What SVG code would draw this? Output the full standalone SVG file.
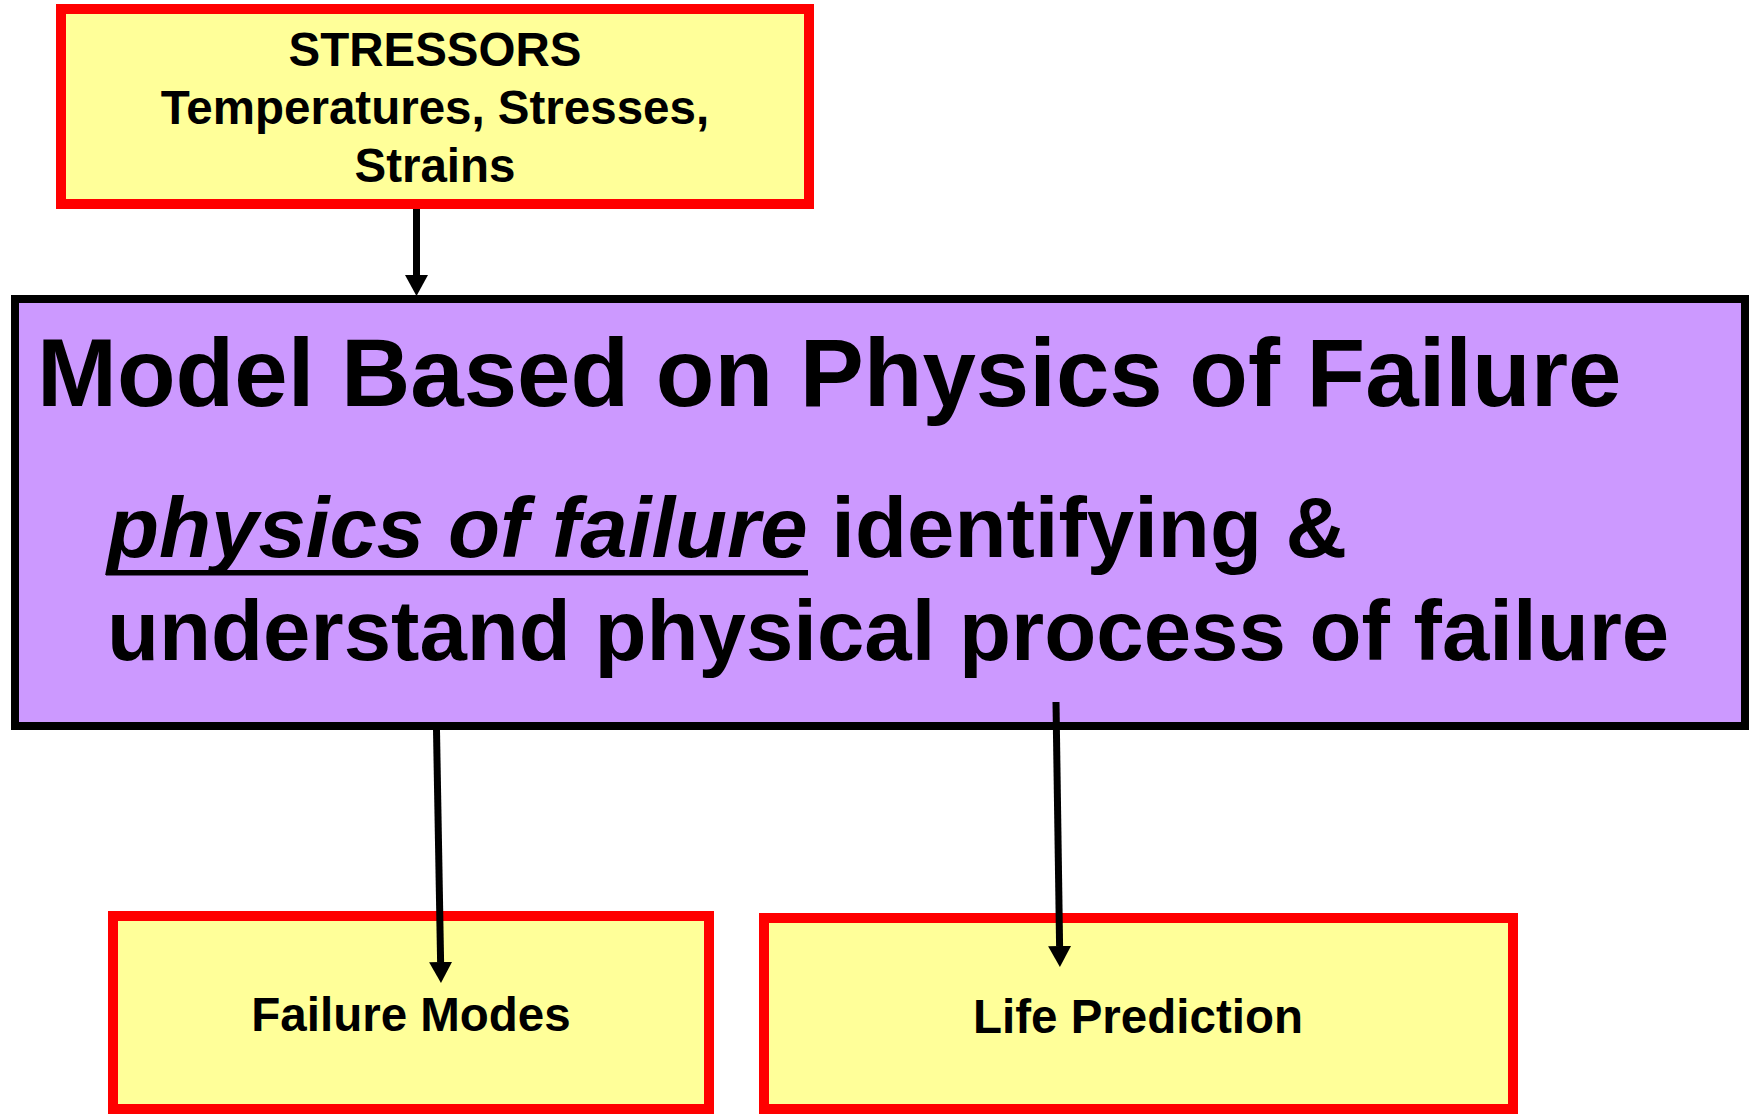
<svg xmlns="http://www.w3.org/2000/svg" width="1754" height="1114" viewBox="0 0 1754 1114">
<style>
.box{fill:#FFFF99;stroke:#FF0000;stroke-width:10}
.main{fill:#CC99FF;stroke:#000000;stroke-width:8}
text{font-family:"Liberation Sans",Arial,Helvetica,sans-serif;font-weight:bold;fill:#000}
.small{font-size:47.5px;text-anchor:middle}
.title{font-size:96px}
.body{font-size:85.2px}
.conn{stroke:#000;stroke-width:7;fill:none}
</style>
<defs>
<marker id="ah" markerUnits="userSpaceOnUse" viewBox="0 0 21 23" refX="0" refY="11.5" markerWidth="21" markerHeight="23" orient="auto">
<path d="M0,0 L21,11.5 L0,23 Z" fill="#000"/>
</marker>
</defs>
<rect width="1754" height="1114" fill="#FFFFFF"/>
<g id="stressors">
<rect class="box" x="61" y="9" width="748" height="195"/>
<text class="small" x="435" y="66">STRESSORS</text>
<text class="small" x="435" y="124">Temperatures, Stresses,</text>
<text class="small" x="435" y="182">Strains</text>
</g>
<g id="model">
<rect class="main" x="15" y="299" width="1730" height="427"/>
<text class="title" x="37" y="406">Model Based on Physics of Failure</text>
<text class="body" x="107" y="557"><tspan font-style="italic">physics of failure</tspan> identifying &amp;</text>
<rect x="106" y="570" width="702" height="5.5" fill="#000"/>
<text class="body" x="107" y="660">understand physical process of failure</text>
</g>
<g id="failure-modes">
<rect class="box" x="113" y="916" width="596" height="193"/>
<text class="small" x="411" y="1031">Failure Modes</text>
</g>
<g id="life-prediction">
<rect class="box" x="764" y="918" width="749" height="191"/>
<text class="small" x="1138" y="1033">Life Prediction</text>
</g>
<g id="connectors">
<line class="conn" x1="416.5" y1="209" x2="416.5" y2="275" marker-end="url(#ah)"/>
<line class="conn" x1="436.5" y1="730" x2="440.6" y2="962" marker-end="url(#ah)"/>
<line class="conn" x1="1056" y1="702" x2="1059.6" y2="946" marker-end="url(#ah)"/>
</g>
</svg>
